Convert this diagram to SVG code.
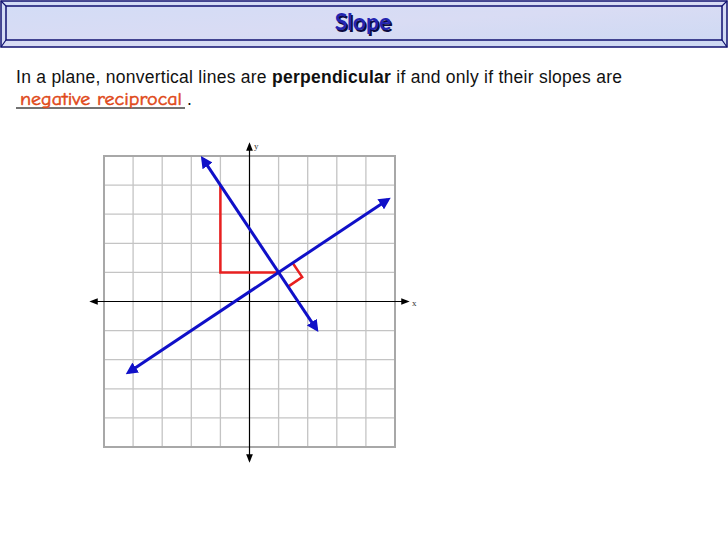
<svg xmlns="http://www.w3.org/2000/svg" width="728" height="546" viewBox="0 0 728 546">
<style>
.grid line{stroke:#c4c4c4;stroke-width:1.3}
.axis{stroke:#000;stroke-width:1.2}
.blue{stroke:#1010c8;stroke-width:3;fill:none}
.red{stroke:#e82020;stroke-width:2.5;fill:none}
.lbl{font-family:"Liberation Serif",serif;font-size:9px;fill:#333}
</style>
<defs>
<marker id="ab" viewBox="0 0 10 10" refX="7" refY="5" markerWidth="4" markerHeight="4" orient="auto-start-reverse" markerUnits="strokeWidth"><path d="M0,0 L10,5 L0,10 z" fill="#1010c8"/></marker>
<marker id="ak" viewBox="0 0 10 10" refX="8" refY="5" markerWidth="7" markerHeight="7" orient="auto-start-reverse" markerUnits="strokeWidth"><path d="M0,1 L10,5 L0,9 z" fill="#000"/></marker>
<linearGradient id="bg" x1="0" y1="0" x2="1" y2="1"><stop offset="0" stop-color="#d2dcf6"/><stop offset="0.5" stop-color="#d9dcf4"/><stop offset="1" stop-color="#cdd9f3"/></linearGradient>
</defs>
<rect width="728" height="546" fill="#fff"/>
<g id="title">
<rect x="1" y="1" width="726" height="46" fill="url(#bg)" stroke="#101070" stroke-width="1.5"/>
<rect x="6" y="6" width="716" height="34" fill="none" stroke="#101070" stroke-width="1.5"/>
<path d="M1,1 L6,6 M727,1 L722,6 M1,47 L6,40 M727,47 L722,40" stroke="#101070" stroke-width="1.2"/>
<text x="364.5" y="31.5" text-anchor="middle" font-family="Lato,'DejaVu Sans',sans-serif" font-weight="bold" font-size="23" fill="#0a0a40">Slope</text>
<text x="363" y="30" text-anchor="middle" font-family="Lato,'DejaVu Sans',sans-serif" font-weight="bold" font-size="23" fill="#2424b0">Slope</text>
</g>
<g id="statement" font-family="'Liberation Sans',Arial,sans-serif" font-size="17.5" fill="#111">
<text x="16" y="83" textLength="606" lengthAdjust="spacing">In a plane, nonvertical lines are <tspan font-weight="bold">perpendicular</tspan> if and only if their slopes are</text>
<line x1="16" y1="108" x2="185" y2="108" stroke="#444" stroke-width="1.4"/>
<text x="187" y="105">.</text>
<text x="20" y="105" font-family="'Comic Neue','DejaVu Sans',sans-serif" font-size="18" fill="#e04818" stroke="#e04818" stroke-width="0.5" textLength="162" lengthAdjust="spacingAndGlyphs">negative reciprocal</text>
</g>
<g id="grid" class="grid">
<line x1="133.1" y1="156" x2="133.1" y2="447"/>
<line x1="162.2" y1="156" x2="162.2" y2="447"/>
<line x1="191.3" y1="156" x2="191.3" y2="447"/>
<line x1="220.4" y1="156" x2="220.4" y2="447"/>
<line x1="278.6" y1="156" x2="278.6" y2="447"/>
<line x1="307.7" y1="156" x2="307.7" y2="447"/>
<line x1="336.8" y1="156" x2="336.8" y2="447"/>
<line x1="365.9" y1="156" x2="365.9" y2="447"/>
<line x1="104" y1="185.1" x2="395" y2="185.1"/>
<line x1="104" y1="214.2" x2="395" y2="214.2"/>
<line x1="104" y1="243.3" x2="395" y2="243.3"/>
<line x1="104" y1="272.4" x2="395" y2="272.4"/>
<line x1="104" y1="330.6" x2="395" y2="330.6"/>
<line x1="104" y1="359.7" x2="395" y2="359.7"/>
<line x1="104" y1="388.8" x2="395" y2="388.8"/>
<line x1="104" y1="417.9" x2="395" y2="417.9"/>
<rect x="104" y="156" width="291" height="291" fill="none" stroke="#a8a8a8" stroke-width="2"/>
</g>
<g id="axes">
<line class="axis" x1="91" y1="301.5" x2="408" y2="301.5" marker-start="url(#ak)" marker-end="url(#ak)"/>
<line class="axis" x1="249.5" y1="144" x2="249.5" y2="461" marker-start="url(#ak)" marker-end="url(#ak)"/>
<text class="lbl" x="254" y="149">y</text>
<text class="lbl" x="412" y="306">x</text>
</g>
<g id="connectors">
<polyline class="red" points="220.4,185.1 220.4,272.4 278.6,272.4"/>
<polyline class="red" points="292.7,263 302.2,277.1 288.1,286.6"/>
<line class="blue" x1="316.4" y1="329.1" x2="202.9" y2="158.9" marker-start="url(#ab)" marker-end="url(#ab)"/>
<line class="blue" x1="128.7" y1="372.2" x2="387.7" y2="199.7" marker-start="url(#ab)" marker-end="url(#ab)"/>
</g>
</svg>
